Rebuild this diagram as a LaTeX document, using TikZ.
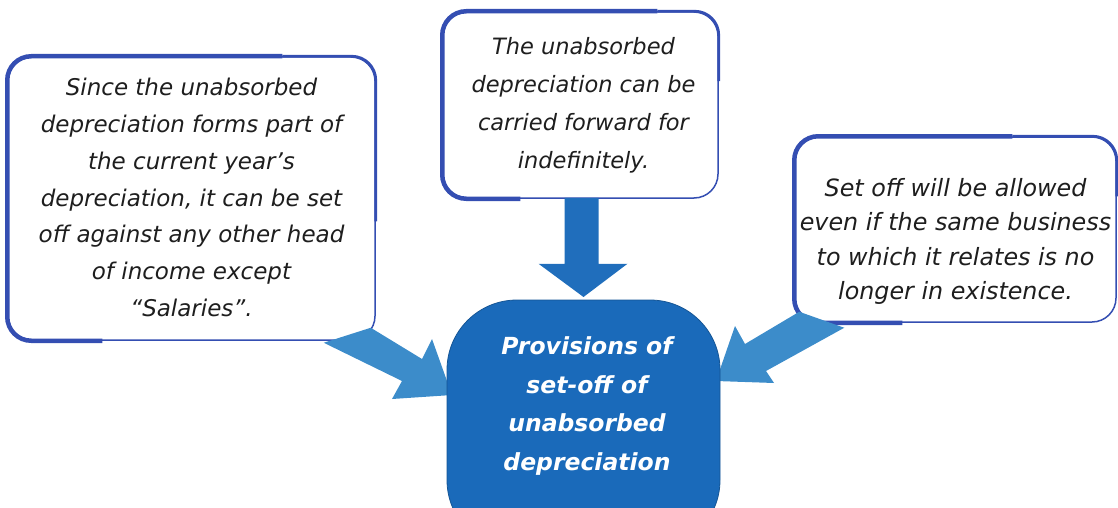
\documentclass[tikz,border=0pt]{standalone}
\usepackage{fontspec}
\setmainfont{DejaVu Sans}
\usetikzlibrary{calc}

\definecolor{rim}{RGB}{52,78,178}
\definecolor{hubblue}{RGB}{26,106,186}
\definecolor{pointer}{RGB}{60,140,202}
\definecolor{pointerdark}{RGB}{32,110,188}
\definecolor{ink}{RGB}{30,30,30}

\begin{document}
\begin{tikzpicture}[x=1pt,y=-1pt,
  card/.style={draw=rim, line width=1.5pt, rounded corners=24pt, fill=white, inner sep=0pt},
  cardedge/.style={draw=rim, line width=4.5pt, rounded corners=24pt},
  cardmid/.style={draw=rim, line width=2.8pt, rounded corners=24pt},
  note/.style={align=center, text=ink, inner sep=0pt},
  hubbox/.style={fill=hubblue, draw=hubblue!80!black, line width=0.8pt, rounded corners=70pt, inner sep=0pt},
  hubtext/.style={align=center, text=white, inner sep=0pt,
    font=\fontsize{23.5}{38.5}\selectfont\bfseries\itshape}]

\useasboundingbox (0,0) rectangle (1118,508);

% ---- three note cards ----
\node[card, minimum width=367pt, minimum height=283pt] (lbox) at (191.5,198.5) {};
\node[card, minimum width=275pt, minimum height=186pt] (tbox) at (580.5,105) {};
\node[card, minimum width=321pt, minimum height=185pt] (rbox) at (955.5,229.5) {};

% heavier strokes along the upper-left of each card
\draw[cardedge] ($(lbox.south west)+(95,0)$) -| (lbox.north west) -- ($(lbox.north west)+(275,0)$);
\draw[cardmid] ($(lbox.north west)+(275,0)$) -| ($(lbox.north east)+(0,165)$);
\draw[cardedge] ($(tbox.south west)+(78,0)$) -| (tbox.north west) -- ($(tbox.north west)+(215,0)$);
\draw[cardmid] ($(tbox.north west)+(215,0)$) -| ($(tbox.north east)+(0,70)$);
\draw[cardedge] ($(rbox.south west)+(108,0)$) -| (rbox.north west) -- ($(rbox.north west)+(218,0)$);
\draw[cardmid] ($(rbox.north west)+(218,0)$) -| ($(rbox.north east)+(0,60)$);

\node[note, font=\fontsize{23}{36.7}\selectfont\itshape] (ltext) at ($(lbox.center)+(0,-1)$)
  {Since the unabsorbed\\depreciation forms part of\\the current year’s\\depreciation, it can be set\\off against any other head\\of income except\\“Salaries”.};
\node[note, font=\fontsize{22.5}{38}\selectfont\itshape] (ttext) at ($(tbox.center)+(3,0)$)
  {The unabsorbed\\depreciation can be\\carried forward for\\indefinitely.};
\node[note, font=\fontsize{23.8}{34.5}\selectfont\itshape] (rtext) at ($(rbox.center)+(0,12)$)
  {Set off will be allowed\\even if the same business\\to which it relates is no\\longer in existence.};

% ---- block arrows pointing at the hub ----
\coordinate (hubtip-t) at (583.5,297);
\coordinate (hubtip-l) at (452,395);
\coordinate (hubtip-r) at (716,381);

\fill[pointerdark]
  ($(tbox.south)+(-16,-1)$) -- ($(tbox.south)+(18,-1)$) -- ($(tbox.south)+(18,65)$)
  -- ($(tbox.south)+(47,65)$) -- (hubtip-t) -- ($(tbox.south)+(-42,65)$)
  -- ($(tbox.south)+(-16,65)$) -- cycle;

\fill[pointer]
  ($(lbox.south east)+(-52,2)$) -- ($(lbox.south east)+(-5,-13)$) -- (422,359)
  -- (432,339) -- (hubtip-l) -- (392,399) -- (402,381) -- cycle;

\fill[pointer]
  ($(rbox.south west)+(5,-11)$) -- ($(rbox.south west)+(50,5)$) -- (766,371)
  -- (774,383) -- (hubtip-r) -- (735,326) -- (745,344) -- cycle;

% ---- central hub ----
\node[hubbox, minimum width=273pt, minimum height=250pt] (hub) at (583.5,425) {};
\node[hubtext] (hubtext) at (587,406)
  {Provisions of\\set-off of\\unabsorbed\\depreciation};

\end{tikzpicture}
\end{document}
